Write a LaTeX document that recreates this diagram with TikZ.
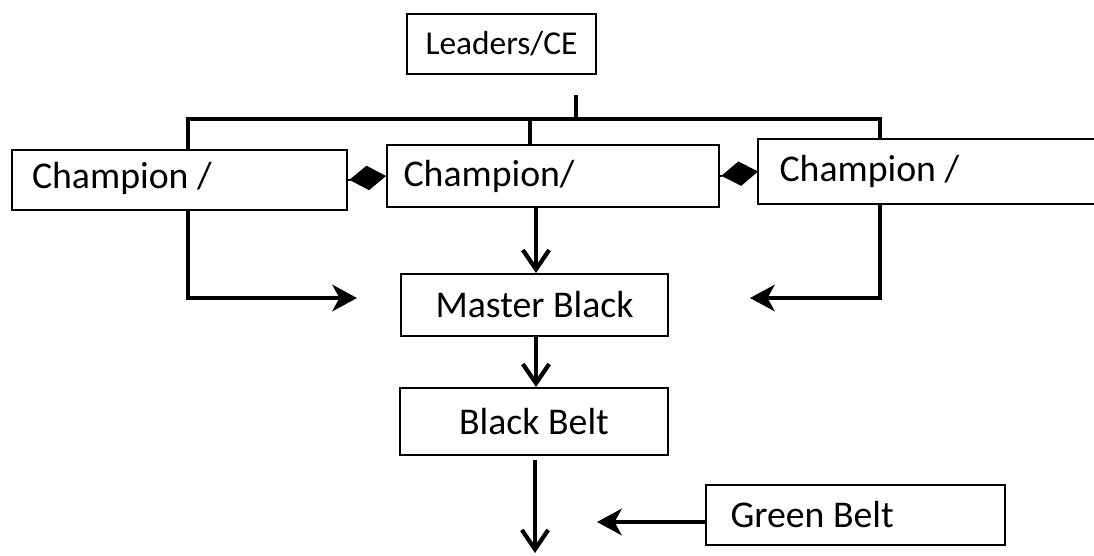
\documentclass[tikz,border=0pt]{standalone}
\usepackage{fontspec}
\setmainfont{Carlito}
\usetikzlibrary{arrows.meta,calc}
\begin{document}
\begin{tikzpicture}[x=0.02cm,y=-0.02cm,
  box/.style={draw,line width=1.1pt,inner sep=0pt,font=\fontsize{21.5}{25}\selectfont},
  conn/.style={line width=2.6pt},
  varrow/.style={conn,-{Straight Barb[length=11pt,width=15pt,line width=2.4pt]}},
  harrow/.style={conn,-{Stealth[length=14pt,width=15pt,inset=4pt]}},
  link/.style={line width=1pt,-{Diamond[length=21pt,width=14pt]}}]
\useasboundingbox (0,0) rectangle (1094,555);
% boxes
\node[box,font=\fontsize{19}{23}\selectfont,minimum width=3.78cm,minimum height=1.2cm] (lce) at (501.5,44) {Leaders/CE};
\node[box,minimum width=6.7cm,minimum height=1.2cm,text width=5.9cm,align=flush left,text depth=0.2cm] (cl) at (179.5,180) {Champion /};
\node[box,minimum width=6.64cm,minimum height=1.24cm,text width=5.98cm,align=flush left] (cm) at (553,176) {Champion/};
\node[box,draw=none,minimum width=6.7cm,minimum height=1.26cm,text width=5.88cm,align=flush left] (cr) at (926.5,171.5) {Champion /};
\draw[line width=1.1pt] (cr.north east) -- (cr.north west) -- (cr.south west) -- (cr.south east);
\node[box,minimum width=5.34cm,minimum height=1.24cm] (mb) at (534.5,305) {Master Black};
\node[box,minimum width=5.36cm,minimum height=1.34cm] (bb) at (534,421.5) {Black Belt};
\node[box,minimum width=5.98cm,minimum height=1.2cm,text width=5.0cm,align=flush left] (gb) at (855.5,515) {Green Belt};
% bus
\coordinate (stub) at (576,95);
\coordinate (busl) at (188,119);
\coordinate (busr) at (880,119);
\coordinate (busm) at (530,119);
\draw[conn] (stub) -- (stub |- busl);
\draw[conn] (cl.north -| busl) -- (busl) -- (busr) -- (cr.north -| busr);
\draw[conn] (busm) -- (cm.north -| busm);
% side arrows
\coordinate (ltip) at (357,298);
\coordinate (rtip) at (750,298);
\draw[harrow] (cl.south -| busl) |- (ltip);
\draw[harrow] (cr.south -| busr) |- (rtip);
% diamonds
\draw[link] (cl.east) -- (cm.west);
\draw[link] (cm.east) -- (cr.west);
% vertical chain
\coordinate (ax) at (536,0);
\draw[varrow] (cm.south -| ax) -- (mb.north -| ax);
\draw[varrow] (mb.south -| ax) -- (bb.north -| ax);
\coordinate (bend) at (535,553);
\draw[varrow] (bb.south -| bend) ++(0,4) -- (bend);
\coordinate (gtip) at (597,522);
\draw[harrow] (gb.west |- gtip) -- (gtip);
\end{tikzpicture}
\end{document}
